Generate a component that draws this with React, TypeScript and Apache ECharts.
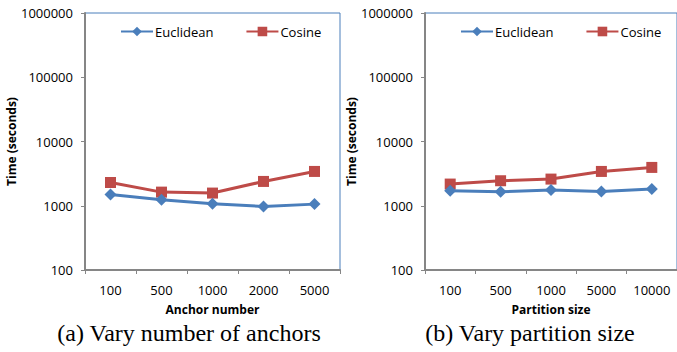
import React, { useEffect, useRef } from "react";
import * as echarts from "echarts";

const anchorCategories = ["100", "500", "1000", "2000", "5000"];
const partitionCategories = ["100", "500", "1000", "5000", "10000"];
const anchorEuclidean = [1500, 1240, 1075, 975, 1060];
const anchorCosine = [2300, 1630, 1575, 2390, 3420];
const partitionEuclidean = [1710, 1650, 1755, 1670, 1820];
const partitionCosine = [2175, 2450, 2600, 3420, 3950];
const seriesNames = ["Euclidean", "Cosine"];
const captions = ["(a) Vary number of anchors", "(b) Vary partition size"];
const xAxisNames = ["Anchor number", "Partition size"];
const yAxisName = "Time (seconds)";

const BLUE = "#4A7EBB";
const RED = "#BE4B48";
const GRAY = "#868686";
const FONT = "'Open Sans', 'Noto Sans', sans-serif";

export default function App() {
  const ref = useRef<HTMLDivElement>(null);
  useEffect(() => {
    if (!ref.current) return;
    const chart = echarts.init(ref.current, null, { renderer: "svg" });
    const grids = [
      { left: 85, top: 13, width: 255, height: 257 },
      { left: 425, top: 13, width: 255, height: 257 },
    ];
    const cats = [anchorCategories, partitionCategories];
    const data = [
      [anchorEuclidean, anchorCosine],
      [partitionEuclidean, partitionCosine],
    ];
    const series: any[] = [];
    data.forEach((pair, gi) => {
      series.push({
        name: seriesNames[0],
        type: "line",
        xAxisIndex: gi,
        yAxisIndex: gi,
        data: pair[0],
        symbol: "diamond",
        symbolSize: 12,
        lineStyle: { color: BLUE, width: 3 },
        itemStyle: { color: BLUE },
        z: 3,
      });
      series.push({
        name: seriesNames[1],
        type: "line",
        xAxisIndex: gi,
        yAxisIndex: gi,
        data: pair[1],
        symbol: "rect",
        symbolSize: 11,
        lineStyle: { color: RED, width: 3 },
        itemStyle: { color: RED },
        z: 2,
      });
    });
    chart.setOption({
      animation: false,
      grid: grids.map((g) => ({
        ...g,
        show: true,
        borderColor: BLUE,
        borderWidth: 1,
        backgroundColor: "transparent",
      })),
      legend: [
        { left: 115, top: 20 },
        { left: 455, top: 20 },
      ].map((l) => ({
        ...l,
        width: 260,
        orient: "horizontal",
        data: seriesNames,
        itemWidth: 32,
        itemHeight: 12,
        itemGap: 32,
        textStyle: { fontFamily: FONT, fontSize: 13, color: "#000", padding: [0, 0, 0, -3] },
      })),
      xAxis: cats.map((c, i) => ({
        type: "category",
        gridIndex: i,
        data: c,
        boundaryGap: true,
        axisLine: { lineStyle: { color: GRAY, width: 2 } },
        axisTick: { show: true, length: 4, lineStyle: { color: GRAY, width: 1 } },
        axisLabel: { fontFamily: FONT, fontSize: 13, color: "#000", margin: 13 },
        name: xAxisNames[i],
        nameLocation: "middle",
        nameGap: 33,
        nameTextStyle: { fontFamily: FONT, fontSize: 12, fontWeight: "bold", color: "#000" },
      })),
      yAxis: cats.map((_, i) => ({
        type: "log",
        logBase: 10,
        gridIndex: i,
        min: 100,
        max: 1000000,
        splitLine: { show: false },
        axisLine: { show: true, lineStyle: { color: GRAY, width: 2 } },
        axisTick: { show: true, length: 4, lineStyle: { color: GRAY, width: 1 } },
        axisLabel: {
          fontFamily: FONT,
          fontSize: 13,
          color: "#000",
          margin: 12,
          formatter: (v: number) => String(Math.round(v)),
        },
        name: yAxisName,
        nameLocation: "middle",
        nameGap: 64,
        nameTextStyle: { fontFamily: FONT, fontSize: 12, fontWeight: "bold", color: "#000" },
      })),
      series,
      graphic: captions.map((t, i) => ({
        type: "text",
        x: i === 0 ? 189 : 530,
        y: 333,
        style: {
          text: t,
          fontFamily: "'Liberation Serif', 'Times New Roman', serif",
          fontSize: 24,
          fill: "#000",
          align: "center",
          verticalAlign: "middle",
        },
      })),
    });
    return () => chart.dispose();
  }, []);
  return (
    <div
      ref={ref}
      style={{ position: "fixed", left: 0, top: 0, width: 677, height: 352, background: "#fff" }}
    />
  );
}
